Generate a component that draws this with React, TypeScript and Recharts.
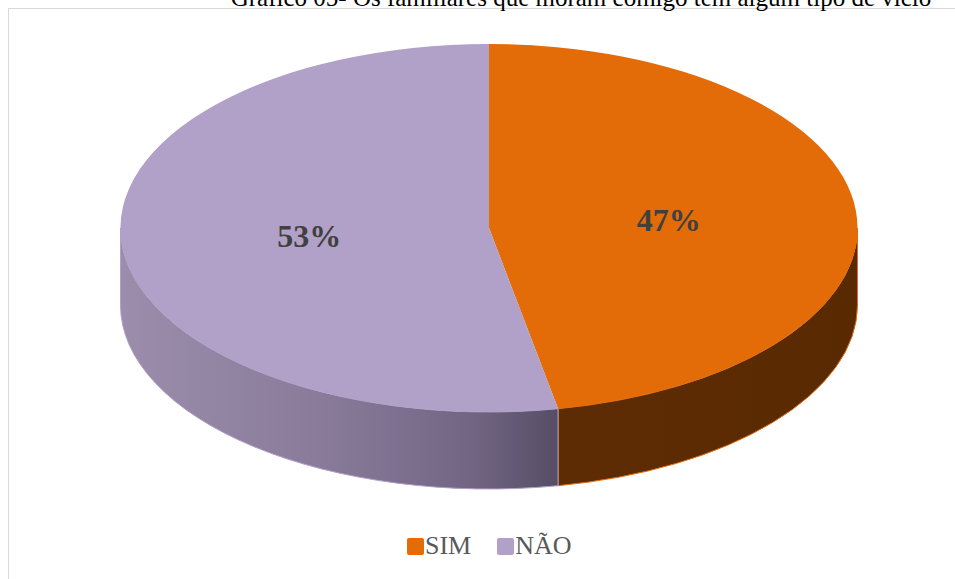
import { Cell, Legend, Pie, PieChart } from 'recharts'

const categories = ['SIM', 'NÃO']
const values = [47, 53]
const topColors = ['#E36C09', '#B1A0C7']
const sideColors = ['url(#simSide)', 'url(#naoSide)']

const title = 'Gráfico 05- Os familiares que moram comigo tem algum tipo de vício'

const SERIF = 'Times New Roman, Liberation Serif, Times, serif'
const RAD = Math.PI / 180
const K = 0.4993 // vertical squash of the ellipse
const DEPTH = 77

const data = categories.map((name, i) => ({ name, value: values[i] }))

function pt(cx: number, cy: number, r: number, a: number) {
  return [cx + r * Math.cos(a * RAD), cy - r * K * Math.sin(a * RAD)]
}

// elliptical top face of one slice
function TopSector(props: any) {
  const { cx, cy, outerRadius: r, startAngle, endAngle, fill } = props
  const [x1, y1] = pt(cx, cy, r, startAngle)
  const [x2, y2] = pt(cx, cy, r, endAngle)
  const large = Math.abs(endAngle - startAngle) > 180 ? 1 : 0
  const sweep = startAngle > endAngle ? 1 : 0
  const d = `M${cx},${cy} L${x1},${y1} A${r},${r * K} 0 ${large} ${sweep} ${x2},${y2} Z`
  return <path d={d} fill={fill} stroke="none" />
}

// front wall of one slice (only the part facing the viewer)
function SideSector(props: any) {
  const { cx, cy, outerRadius: r, startAngle, endAngle, fill, stroke } = props
  const lo = Math.max(Math.min(startAngle, endAngle), -180)
  const hi = Math.min(Math.max(startAngle, endAngle), 0)
  if (hi <= lo) return <g />
  const [ax, ay] = pt(cx, cy, r, hi)
  const [bx, by] = pt(cx, cy, r, lo)
  const d =
    `M${ax},${ay} A${r},${r * K} 0 0 1 ${bx},${by} ` +
    `L${bx},${by + DEPTH} A${r},${r * K} 0 0 0 ${ax},${ay + DEPTH} Z`
  return <path d={d} fill={fill} stroke={stroke} strokeWidth={1} />
}

function renderLabel(props: any) {
  const { cx, cy, midAngle, outerRadius, percent } = props
  const [x, y] = pt(cx, cy, outerRadius * 0.49, midAngle)
  return (
    <text
      x={x}
      y={y}
      textAnchor="middle"
      dominantBaseline="central"
      fill="#404040"
      fontFamily={SERIF}
      fontWeight="bold"
      fontSize={32}
    >
      {`${Math.round(percent * 100)}%`}
    </text>
  )
}

function LegendContent({ payload }: any) {
  const items = (payload || [])
    .filter((p: any) => p.type !== 'none')
    .sort((a: any, b: any) => categories.indexOf(a.value) - categories.indexOf(b.value))
  return (
    <div style={{ display: 'flex', alignItems: 'center', gap: 26 }}>
      {items.map((p: any) => (
        <div key={p.value} style={{ display: 'flex', alignItems: 'center', gap: 1 }}>
          <span
            style={{
              width: 17,
              height: 17,
              borderRadius: 2,
              background: p.color,
              display: 'inline-block',
            }}
          />
          <span
            style={{
              fontFamily: SERIF,
              fontSize: 26,
              color: '#595959',
              lineHeight: '26px',
            }}
          >
            {p.value}
          </span>
        </div>
      ))}
    </div>
  )
}

export default function App() {
  return (
    <div
      style={{
        position: 'absolute',
        left: 0,
        top: 0,
        width: 955,
        height: 579,
        overflow: 'hidden',
        background: '#fff',
      }}
    >
      <div
        style={{
          position: 'absolute',
          left: 8,
          top: 8,
          width: 1000,
          height: 700,
          borderLeft: '1px solid #d9d9d9',
          borderTop: '1px solid #d9d9d9',
        }}
      />
      <svg width={955} height={30} style={{ position: 'absolute', left: 0, top: 0 }}>
        <text x={581} y={6} textAnchor="middle" fontFamily={SERIF} fontSize={25} fill="#000">
          {title}
        </text>
      </svg>
      <div style={{ position: 'absolute', left: 0, top: 0 }}>
        <PieChart width={955} height={579} margin={{ top: 0, right: 0, bottom: 0, left: 0 }}>
          <defs>
            <linearGradient id="naoSide" gradientUnits="userSpaceOnUse" x1={120} y1={0} x2={560} y2={0}>
              <stop offset="0%" stopColor="#9b8dab" />
              <stop offset="45%" stopColor="#8a7b9b" />
              <stop offset="80%" stopColor="#726584" />
              <stop offset="100%" stopColor="#554d64" />
            </linearGradient>
            <linearGradient id="simSide" gradientUnits="userSpaceOnUse" x1={560} y1={0} x2={857} y2={0}>
              <stop offset="0%" stopColor="#5e2c04" />
              <stop offset="100%" stopColor="#592a02" />
            </linearGradient>
          </defs>
          <Pie
            data={data}
            dataKey="value"
            nameKey="name"
            cx={489}
            cy={228}
            outerRadius={368.5}
            startAngle={90}
            endAngle={-270}
            isAnimationActive={false}
            legendType="none"
            shape={(p: any) => <SideSector {...p} />}
          >
            {data.map((d, i) => (
              <Cell key={d.name} fill={sideColors[i]} stroke={topColors[i]} />
            ))}
          </Pie>
          <Pie
            data={data}
            dataKey="value"
            nameKey="name"
            cx={489}
            cy={228}
            outerRadius={368.5}
            startAngle={90}
            endAngle={-270}
            isAnimationActive={false}
            labelLine={false}
            label={renderLabel}
            shape={(p: any) => <TopSector {...p} />}
          >
            {data.map((d, i) => (
              <Cell key={d.name} fill={topColors[i]} stroke="none" />
            ))}
          </Pie>
          <Legend
            verticalAlign="bottom"
            content={LegendContent}
            wrapperStyle={{ left: 407, top: 533, width: 'auto', bottom: 'auto' }}
          />
        </PieChart>
      </div>
    </div>
  )
}
